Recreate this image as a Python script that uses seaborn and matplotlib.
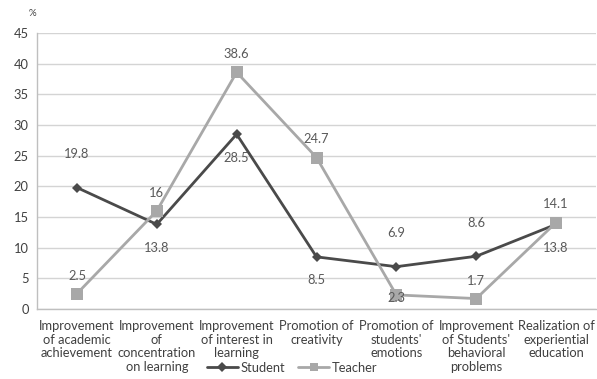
import matplotlib
matplotlib.use("Agg")
import matplotlib.pyplot as plt
import seaborn as sns
import pandas as pd
import numpy as np
from matplotlib.lines import Line2D

categories = [
    "Improvement\nof academic\nachievement",
    "Improvement\nof\nconcentration\non learning",
    "Improvement\nof interest in\nlearning",
    "Promotion of\ncreativity",
    "Promotion of\nstudents'\nemotions",
    "Improvement\nof Students'\nbehavioral\nproblems",
    "Realization of\nexperiential\neducation",
]
student = [19.8, 13.8, 28.5, 8.5, 6.9, 8.6, 13.8]
teacher = [2.5, 16, 38.6, 24.7, 2.3, 1.7, 14.1]
y_ticks = [0, 5, 10, 15, 20, 25, 30, 35, 40, 45]

# label placement: +1 above the point, -1 below
student_pos = [1, -1, -1, -1, 1, 1, -1]
teacher_pos = [1, 1, 1, 1, -1, 1, 1]

sns.set_style("white")
plt.rcParams["font.family"] = ["Lato", "DejaVu Sans"]

df = pd.DataFrame({
    "pos": list(range(len(categories))) * 2,
    "value": student + teacher,
    "group": ["Student"] * len(student) + ["Teacher"] * len(teacher),
})

W, H = 597, 379
fig = plt.figure(figsize=(W / 100, H / 100), dpi=100)
ax = fig.add_axes([37 / W, 1 - 309 / H, 559 / W, 276 / H])

colors = {"Student": "#4a4a4a", "Teacher": "#a8a8a8"}
sns.lineplot(data=df, x="pos", y="value", hue="group", style="group",
             markers={"Student": "D", "Teacher": "s"}, dashes=False,
             palette=colors, linewidth=2.0, ax=ax, legend=False,
             markeredgewidth=0)
for line, ms in zip(ax.lines, [5.5, 8.5]):
    line.set_markersize(ms)

fs = 9.3
txt_color = "#595959"
for vals, pos, up, down in [(student, student_pos, 24, 17), (teacher, teacher_pos, 13, 2)]:
    for i, (v, p) in enumerate(zip(vals, pos)):
        lab = f"{v:g}"
        off = up if p > 0 else -down
        ax.annotate(lab, (i, v), xytext=(0, off), textcoords="offset points",
                    ha="center", va="center", fontsize=fs, color=txt_color)

ax.set_xlim(-0.5, len(categories) - 0.5)
ax.set_ylim(0, 45)
ax.set_yticks(y_ticks)
ax.set_xticks(range(len(categories)))
ax.set_xticklabels(categories, fontsize=fs, color="#404040", linespacing=1.15)
ax.set_xticks(np.arange(-0.5, len(categories), 1.0), minor=True)
ax.tick_params(axis="x", which="major", length=0, pad=8)
ax.tick_params(axis="x", which="minor", length=4, color="#bfbfbf", width=1)
ax.tick_params(axis="y", length=0, labelsize=fs, labelcolor="#404040", pad=6)
ax.yaxis.grid(True, color="#d4d4d4", linewidth=1)
ax.set_axisbelow(True)
ax.set_xlabel("")
ax.set_ylabel("")
for s in ["top", "right"]:
    ax.spines[s].set_visible(False)
for s in ["left", "bottom"]:
    ax.spines[s].set_color("#bfbfbf")
    ax.spines[s].set_linewidth(1)

fig.text(32 / W, 1 - 14 / H, "%", fontsize=7, color="#404040", ha="center", va="center")

handles = [Line2D([], [], color=colors["Student"], marker="D", markersize=5, linewidth=2, markeredgewidth=0),
           Line2D([], [], color=colors["Teacher"], marker="s", markersize=6, linewidth=2, markeredgewidth=0)]
fig.legend(handles, ["Student", "Teacher"], loc="center", bbox_to_anchor=(292 / W, 1 - 368 / H),
           ncol=2, frameon=False, fontsize=fs, handlelength=2.4, handletextpad=0.2,
           columnspacing=1.0, labelcolor="#404040")

fig.savefig("out.png", dpi=100)
